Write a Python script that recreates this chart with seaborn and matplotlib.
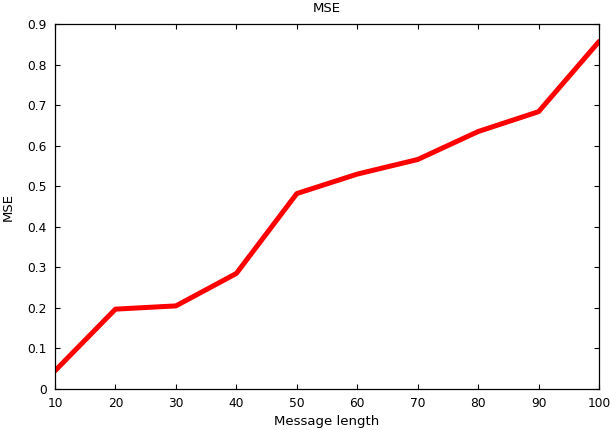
import pandas as pd
import seaborn as sns
import matplotlib.pyplot as plt

# values
message_length = [10, 20, 30, 40, 50, 60, 70, 80, 90, 100]
mse = [0.045, 0.197, 0.205, 0.285, 0.482, 0.530, 0.566, 0.635, 0.684, 0.857]
x_ticks = [10, 20, 30, 40, 50, 60, 70, 80, 90, 100]
y_ticks = [0, 0.1, 0.2, 0.3, 0.4, 0.5, 0.6, 0.7, 0.8, 0.9]

df = pd.DataFrame({'Message length': message_length, 'MSE': mse})

sns.set_style('ticks')
plt.rcParams['font.family'] = ['DejaVu Sans']
plt.rcParams['text.color'] = 'black'
plt.rcParams['axes.labelcolor'] = 'black'

fig = plt.figure(figsize=(6.1, 4.3), dpi=100)
ax = fig.add_axes([0.0902, 0.0953, 0.8918, 0.8487])

sns.lineplot(data=df, x='Message length', y='MSE', color='#ff0000', linewidth=3.6, ax=ax)

ax.set_xlim(10, 100)
ax.set_ylim(0, 0.9)
ax.set_xticks(x_ticks)
ax.set_yticks(y_ticks)
ax.set_yticklabels([f'{v:g}' for v in y_ticks])
ax.tick_params(direction='in', top=True, right=True, length=3.5, width=0.8,
               labelsize=8.8, colors='black')
ax.tick_params(axis='x', pad=6)
ax.tick_params(axis='y', pad=6)
for s in ax.spines.values():
    s.set_linewidth(0.9)
    s.set_color('black')

ax.set_title('MSE', fontsize=9.5, pad=9, color='black')
ax.set_xlabel('Message length', fontsize=9.5, labelpad=3)
ax.set_ylabel('MSE', fontsize=9.5, labelpad=9)

plt.savefig('out.png', dpi=100)
